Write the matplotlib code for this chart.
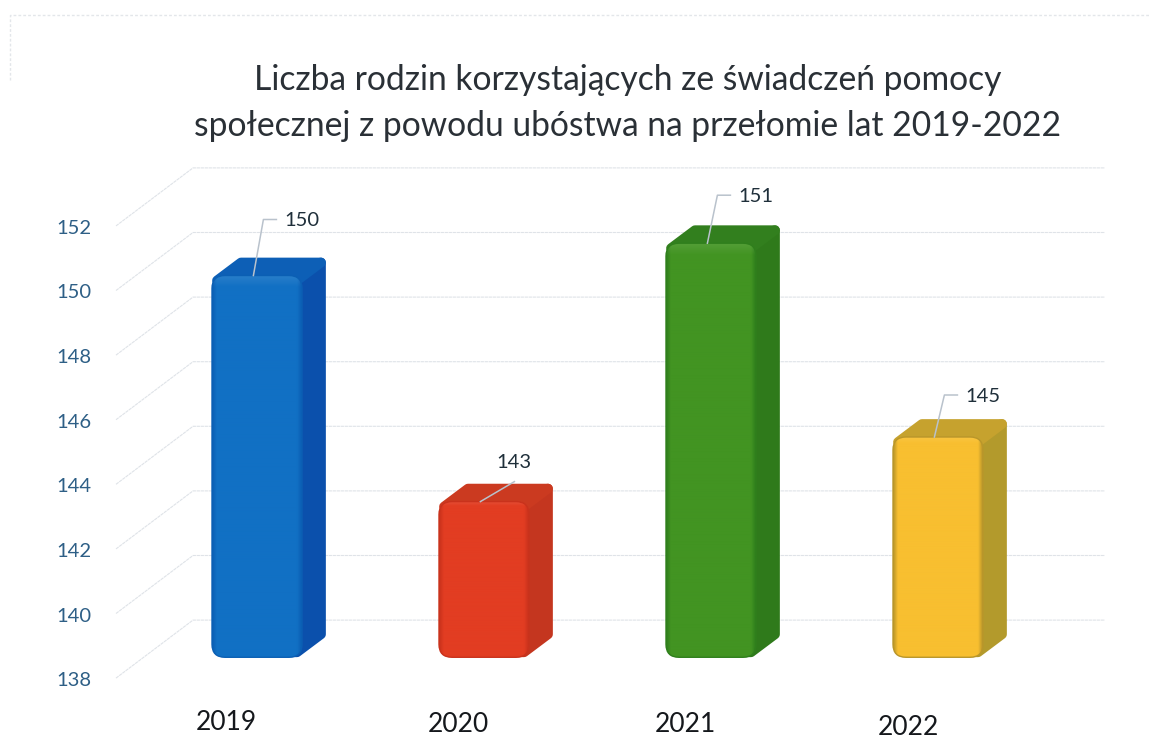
import numpy as np
import matplotlib
matplotlib.use("Agg")
import matplotlib.pyplot as plt
from matplotlib.colors import to_rgb
from matplotlib.patches import FancyBboxPatch, Polygon

title = "Liczba rodzin korzystających ze świadczeń pomocy\nspołecznej z powodu ubóstwa na przełomie lat 2019-2022"
years = ["2019", "2020", "2021", "2022"]
values = [150, 143, 151, 145]
yticks = [138, 140, 142, 144, 146, 148, 150, 152]
front_cols = ["#1170C4", "#E23D22", "#429422", "#F8BF30"]
edge_cols = ["#0B5FB4", "#C9321C", "#2F7F1C", "#B9962A"]
side_cols = ["#0B50AC", "#C4361F", "#2F7A1B", "#B39A2C"]
top_cols = ["#0D5FB6", "#CB3A20", "#327F1E", "#C6A22E"]
label_off = [(46, 55), (34, 39), (56, 47), (52, 41)]
year_px = [(226, 723), (458, 724), (685, 725), (908, 727)]

plt.rcParams["font.family"] = ["Lato", "DejaVu Sans"]
W, H = 1149, 756
PX_X, PX_Y = 227.0, 32.3
X0, Y_REF, V_REF = 257.0, 437.0, 145.0

fig = plt.figure(figsize=(W / 100, H / 100), dpi=100, facecolor="white")
ax = fig.add_axes([0, 0, 1, 1])
xlim = (-X0 / PX_X, (W - X0) / PX_X)
ylim = (V_REF - (H - Y_REF) / PX_Y, V_REF + Y_REF / PX_Y)
ax.axis("off")

fx = lambda p: (p - X0) / PX_X          # pixel column to axis x
fy = lambda d: d / PX_Y                 # pixel distance to value units

# page edge of the scan
ax.plot([fx(10), fx(10), fx(W)], [ylim[0] + fy(H - 80), ylim[0] + fy(H - 15), ylim[0] + fy(H - 15)],
        color="#e3e6ea", lw=1.0, ls=(0, (2, 1.5)), zorder=1)

# floor and wall guides
for v in yticks:
    ax.plot([fx(116), fx(193), fx(1105)], [v - fy(15), v + fy(43), v + fy(43)],
            color="#dfe3e8", lw=0.8, ls=(0, (3, 0.6)), zorder=1)
    ax.text(fx(91), v - fy(17.5), str(v), ha="right", va="center", fontsize=14.5, color="#2E5F86")

base = 138.18
width = 90 / PX_X
dx, dy = 24 / PX_X, fy(18)
xs = np.arange(len(values))
bars = ax.bar(xs, np.array(values) - base, bottom=base, width=width, color=front_cols, zorder=3)
asp = PX_X / PX_Y
ins_x, ins_y = 5 / PX_X, fy(5)

for i, (b, v) in enumerate(zip(bars, values)):
    L, R, B, T = b.get_x(), b.get_x() + width, base, v
    # right side face
    ax.add_patch(Polygon([(R - dx, T), (R + dx - ins_x, T + dy - ins_y), (R + dx - ins_x, B + dy + ins_y),
                          (R - ins_x, B + ins_y), (R - dx, B + ins_y)],
                         closed=True, fc=side_cols[i], ec=side_cols[i], lw=7, joinstyle="round", zorder=2.4))
    # top face
    ax.add_patch(Polygon([(L + ins_x, T - ins_y), (L + dx + ins_x, T + dy - ins_y),
                          (R + dx - ins_x, T + dy - ins_y), (R - ins_x, T - ins_y)],
                         closed=True, fc=top_cols[i], ec=top_cols[i], lw=7, joinstyle="round", zorder=2.5))
    # rounded, shaded front face
    r = 13 / PX_X
    clip = FancyBboxPatch((L, B), width, T - B, boxstyle=f"round,pad=0,rounding_size={r}",
                          mutation_aspect=asp, fc="none", ec=edge_cols[i], lw=1.0, zorder=5)
    ax.add_patch(clip)
    b.set_clip_path(clip)
    c = np.array(to_rgb(front_cols[i]))
    e = np.array(to_rgb(edge_cols[i]))
    t = np.linspace(0, 1, 90)
    hshade = np.minimum(np.minimum(t / 0.05, (1 - t) / 0.05), 1)[None, :, None]
    nrow = 400
    tv = np.linspace(0, 1, nrow)[:, None, None]
    light = np.clip(1 - tv / 0.03, 0, 1) * 0.10
    img = (e + (c - e) * hshade) * np.ones((nrow, 90, 3))
    img = img + (1 - img) * light
    im = ax.imshow(img, extent=(L, R, B, T), origin="upper", aspect="auto", zorder=4, interpolation="bilinear")
    im.set_clip_path(clip)

    # leader line and value label
    cx = L + width * 0.46
    ox, oy = label_off[i]
    if i == 1:
        ax.plot([cx, cx + 34 / PX_X], [T, T + fy(20)], color="#b9c2cc", lw=1.1, zorder=6)
        ax.text(cx + 34 / PX_X, T + fy(39), str(v), ha="center", va="center", fontsize=14.5, color="#1F2F3A", zorder=7)
    else:
        ax.plot([cx, cx + 10 / PX_X, cx + 23 / PX_X], [T, T + fy(oy + 1), T + fy(oy + 1)],
                color="#b9c2cc", lw=1.1, zorder=6)
        ax.text(cx + 31 / PX_X, T + fy(oy), str(v), ha="left", va="center", fontsize=14.5, color="#1F2F3A", zorder=7)

for lab, (px, py) in zip(years, year_px):
    ax.text(fx(px), ylim[1] - fy(py), lab, ha="center", va="center", fontsize=19, color="#15181c")

ax.text(fx(628), ylim[1] - fy(103), title, ha="center", va="center", fontsize=24.2, color="#2A3036", linespacing=1.52)

ax.set_xlim(*xlim)
ax.set_ylim(*ylim)
fig.savefig("out.png", dpi=100, facecolor="white")
